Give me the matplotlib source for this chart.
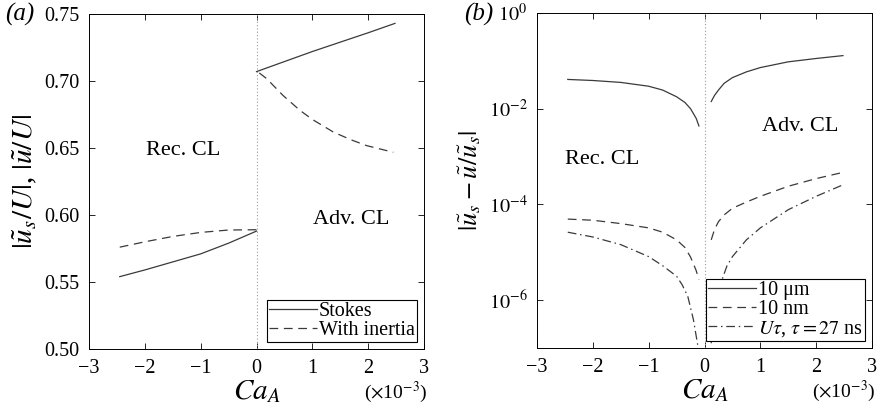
import numpy as np
import matplotlib
matplotlib.use('Agg')
from matplotlib import pyplot as plt
from matplotlib.ticker import NullLocator

plt.rcParams['font.family'] = ['Liberation Serif', 'DejaVu Serif']
plt.rcParams['mathtext.fontset'] = 'stix'
plt.rcParams['xtick.direction'] = 'in'
plt.rcParams['ytick.direction'] = 'in'
plt.rcParams['xtick.top'] = True
plt.rcParams['ytick.right'] = True

# panel (a) data, Ca_A in units of 1e-3
xa_rec = [-2.45, -2.0, -1.5, -1.0, -0.5, 0.0]
stokes_rec = [0.554, 0.559, 0.565, 0.571, 0.579, 0.588]
inert_rec = [0.576, 0.580, 0.584, 0.587, 0.5888, 0.589]
xa_adv = [0.0, 0.5, 1.0, 1.5, 2.0, 2.48]
stokes_adv = [0.707, 0.7145, 0.722, 0.729, 0.736, 0.743]
xa_adv_in = [0.05, 0.18, 0.48, 0.78, 1.0, 1.38, 1.7, 1.97, 2.45]
inert_adv = [0.706, 0.7018, 0.689, 0.678, 0.6713, 0.6618, 0.6560, 0.6518, 0.6468]

# panel (b) data, log10 of relative difference
xb_rec = [-2.45, -2.0, -1.5, -1.0, -0.75, -0.5, -0.35, -0.25, -0.15, -0.1]
um_rec = [-1.388, -1.41, -1.45, -1.53, -1.61, -1.75, -1.87, -2.0, -2.2, -2.36]
nm_rec = [-4.306, -4.33, -4.40, -4.49, -4.58, -4.74, -4.90, -5.10, -5.38, -5.57]
xb_adv = [0.12, 0.18, 0.25, 0.35, 0.5, 0.75, 1.0, 1.5, 2.0, 2.48]
um_adv = [-1.85, -1.72, -1.61, -1.47, -1.35, -1.23, -1.14, -1.02, -0.95, -0.89]
nm_adv = [-4.74, -4.52, -4.36, -4.22, -4.08, -3.95, -3.83, -3.62, -3.46, -3.33]
xt_rec = [-2.45, -2.0, -1.5, -1.0, -0.75, -0.5, -0.4, -0.3, -0.2, -0.12]
tau_rec = [-4.58, -4.68, -4.84, -5.09, -5.28, -5.50, -5.68, -5.92, -6.40, -6.95]
xt_adv = [0.12, 0.25, 0.4, 0.5, 0.75, 1.0, 1.5, 2.0, 2.48]
tau_adv = [-6.9, -5.78, -5.29, -5.09, -4.74, -4.49, -4.11, -3.83, -3.59]

lc = '#3a3a3a'
lw = 0.9
dash = (0, (7, 4.5))
dashdot = (0, (7, 3, 1.2, 3))

fig = plt.figure(figsize=(8.79, 4.08), dpi=100)
ax1 = fig.add_axes([0.1013, 0.1446, 0.3811, 0.8211])
ax2 = fig.add_axes([0.611, 0.1470, 0.381, 0.8211])

leg_kw = dict(loc='lower right', fontsize=14.5, frameon=True, fancybox=False,
              edgecolor='black', handlelength=2.4, handletextpad=0.1,
              borderpad=0.1, labelspacing=0.0, borderaxespad=0.35, framealpha=1)

# (a)
ax1.axvline(0, color='#999999', lw=0.8, ls=(0, (1, 2)))
ax1.plot(xa_rec, stokes_rec, color=lc, lw=lw, label='Stokes')
ax1.plot(xa_rec, inert_rec, color=lc, lw=lw, ls=dash, label='With inertia')
ax1.plot(xa_adv, stokes_adv, color=lc, lw=lw)
ax1.plot(xa_adv_in, inert_adv, color=lc, lw=lw, ls=dash)
ax1.set_xlim(-3, 3)
ax1.set_ylim(0.5, 0.75)
ax1.set_xticks([-3, -2, -1, 0, 1, 2, 3])
ax1.set_xticklabels(['\u22123', '\u22122', '\u22121', '0', '1', '2', '3'])
ax1.set_yticks([0.5, 0.55, 0.6, 0.65, 0.7, 0.75])
ax1.set_yticklabels(['0.50', '0.55', '0.60', '0.65', '0.70', '0.75'])
ax1.set_ylabel(r'$|\tilde{u}_s/U|$, $|\tilde{u}/U|$', fontsize=21, labelpad=4)
ax1.text(-1.31, 0.6485, 'Rec. CL', fontsize=16, ha='center', va='center')
ax1.text(1.69, 0.5967, 'Adv. CL', fontsize=16, ha='center', va='center')
leg1 = ax1.legend(**leg_kw)
leg1.get_frame().set_linewidth(0.8)
fig.text(20/879, 1 - 14/408, '(a)', fontsize=18, style='italic', ha='center', va='center')

# (b)
ax2.axvline(0, color='#999999', lw=0.8, ls=(0, (1, 2)))
ax2.plot(xb_rec, 10**np.array(um_rec), color=lc, lw=lw, label='10 \u03bcm')
ax2.plot(xb_rec, 10**np.array(nm_rec), color=lc, lw=lw, ls=dash, label='10 nm')
ax2.plot(xt_rec, 10**np.array(tau_rec), color=lc, lw=lw, ls=dashdot,
         label=r'$U\tau$, $\tau = 27$ ns')
ax2.plot(xb_adv, 10**np.array(um_adv), color=lc, lw=lw)
ax2.plot(xb_adv, 10**np.array(nm_adv), color=lc, lw=lw, ls=dash)
ax2.plot(xt_adv, 10**np.array(tau_adv), color=lc, lw=lw, ls=dashdot)
ax2.set_yscale('log')
ax2.set_xlim(-3, 3)
ax2.set_ylim(1e-7, 1)
ax2.set_yticks([1e-6, 1e-4, 1e-2, 1])
ax2.set_yticklabels([r'$10^{-6}$', r'$10^{-4}$', r'$10^{-2}$', r'$10^{0}$'])
ax2.yaxis.set_minor_locator(NullLocator())
ax2.set_xticks([-3, -2, -1, 0, 1, 2, 3])
ax2.set_xticklabels(['\u22123', '\u22122', '\u22121', '0', '1', '2', '3'])
ax2.set_ylabel(r'$|\tilde{u}_s - \tilde{u}/\tilde{u}_s|$', fontsize=19, labelpad=4)
ax2.text(-1.83, 10**-3.07, 'Rec. CL', fontsize=16, ha='center', va='center')
ax2.text(1.71, 10**-2.37, 'Adv. CL', fontsize=16, ha='center', va='center')
leg2 = ax2.legend(**leg_kw)
leg2.get_frame().set_linewidth(0.8)
fig.text(479/879, 1 - 14/408, '(b)', fontsize=18, style='italic', ha='center', va='center')

for ax in (ax1, ax2):
    ax.tick_params(labelsize=14.5, length=4, width=0.6, pad=7)
    for s in ax.spines.values():
        s.set_linewidth(0.7)
    ax.set_xlabel(r'$Ca_A$', fontsize=21, labelpad=0)
    ax.text(1.01, -0.13, r'($\times$10$^{-3}$)', transform=ax.transAxes,
            fontsize=14, ha='right', va='center')

fig.savefig('out.png', dpi=100)
